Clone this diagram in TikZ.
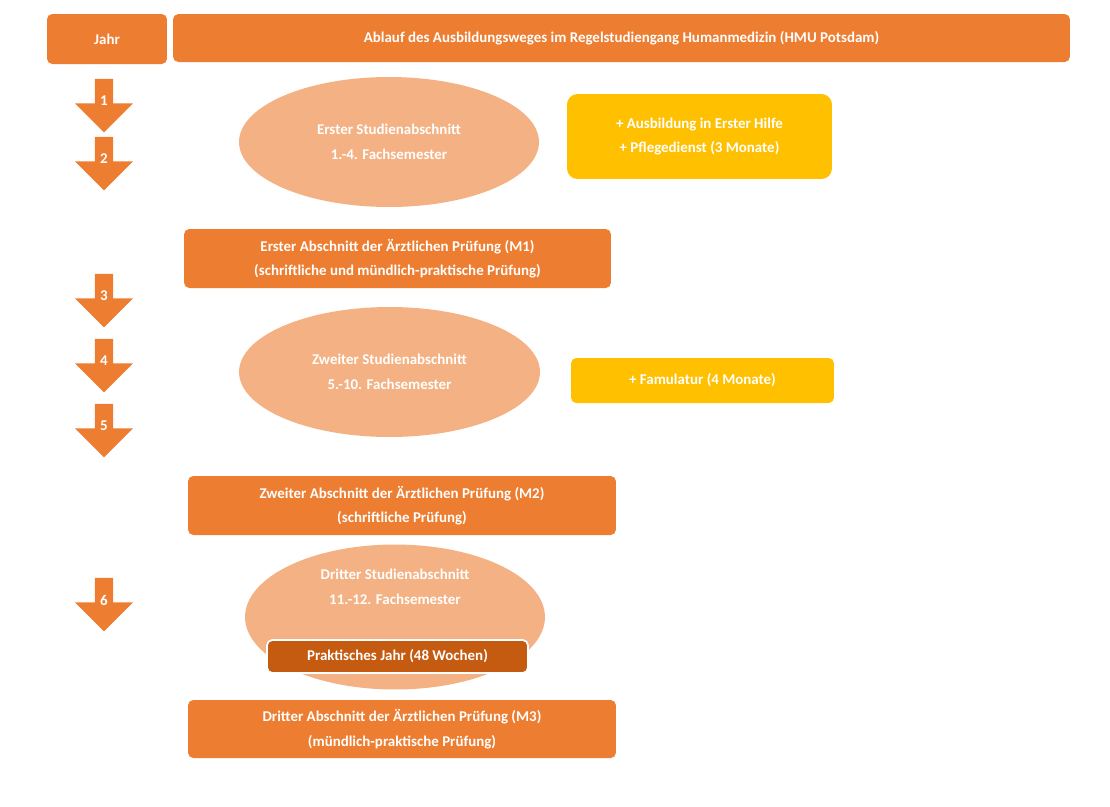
\documentclass[tikz,border=0pt]{standalone}
\usepackage{fontspec}
\setmainfont{Carlito}
\usetikzlibrary{shapes.geometric,shapes.arrows}
\definecolor{orange1}{HTML}{ED7D31}
\definecolor{lightor}{HTML}{F4B183}
\definecolor{gold}{HTML}{FFC000}
\definecolor{darkor}{HTML}{C55A11}
\tikzset{
  box/.style={fill=orange1,rounded corners=3pt,text=white,font=\bfseries\fontsize{8.5}{14}\selectfont,align=center,inner sep=0pt},
  oval/.style={ellipse,fill=lightor,text=white,font=\bfseries\fontsize{8.5}{14}\selectfont,align=center,inner sep=0pt},
  extra/.style={box,fill=gold},
  year/.style={single arrow,fill=orange1,shape border rotate=270,minimum height=1.07cm,minimum width=1.16cm,single arrow head extend=0.29cm,single arrow tip angle=90,inner sep=1.5pt,text=white,font=\bfseries\fontsize{8.5}{10}\selectfont}
}
\begin{document}
\begin{tikzpicture}[x=0.02cm,y=-0.02cm]
\useasboundingbox (0,0) rectangle (1110,806);
\node [box,minimum width=2.4cm,minimum height=1cm](jahr)at(107,39){Jahr};
\node [box,minimum width=17.94cm,minimum height=0.96cm](titel)at(621.5,38){Ablauf des Ausbildungsweges im Regelstudiengang Humanmedizin (HMU Potsdam)};

\node [year](j1)at(104,101){1};
\node [year](j2)at(104,159){2};
\node [year](j3)at(104,296){3};
\node [year](j4)at(104,361){4};
\node [year](j5)at(104,426){5};
\node [year](j6)at(104,600){6};

\node [oval,minimum width=6cm,minimum height=2.6cm](s1)at(389,142){Erster Studienabschnitt\\1.-4. Fachsemester};
\node [extra,minimum width=5.3cm,minimum height=1.7cm,rounded corners=6pt](e1)at(699.5,136.5){+ Ausbildung in Erster Hilfe\\+ Pflegedienst (3 Monate)};
\node [box,minimum width=8.54cm,minimum height=1.18cm](m1)at(397.5,258.5){Erster Abschnitt der Ärztlichen Prüfung (M1)\\(schriftliche und mündlich-praktische Prüfung)};

\node [oval,minimum width=6.02cm,minimum height=2.6cm](s2)at(389.5,372){Zweiter Studienabschnitt\\5.-10. Fachsemester};
\node [extra,minimum width=5.26cm,minimum height=0.9cm](e2)at(702.5,380.5){+ Famulatur (4 Monate)};
\node [box,minimum width=8.56cm,minimum height=1.18cm](m2)at(402,505.5){Zweiter Abschnitt der Ärztlichen Prüfung (M2)\\(schriftliche Prüfung)};

\node [oval,minimum width=6cm,minimum height=2.9cm,text depth=1.2cm](s3)at(395,617){Dritter Studienabschnitt\\11.-12. Fachsemester};
\node [box,fill=darkor,draw=white,line width=1pt,minimum width=5.22cm,minimum height=0.66cm](pj)at(397.5,656.5){Praktisches Jahr (48 Wochen)};
\node [box,minimum width=8.56cm,minimum height=1.16cm](m3)at(402,729){Dritter Abschnitt der Ärztlichen Prüfung (M3)\\(mündlich-praktische Prüfung)};
\end{tikzpicture}
\end{document}
